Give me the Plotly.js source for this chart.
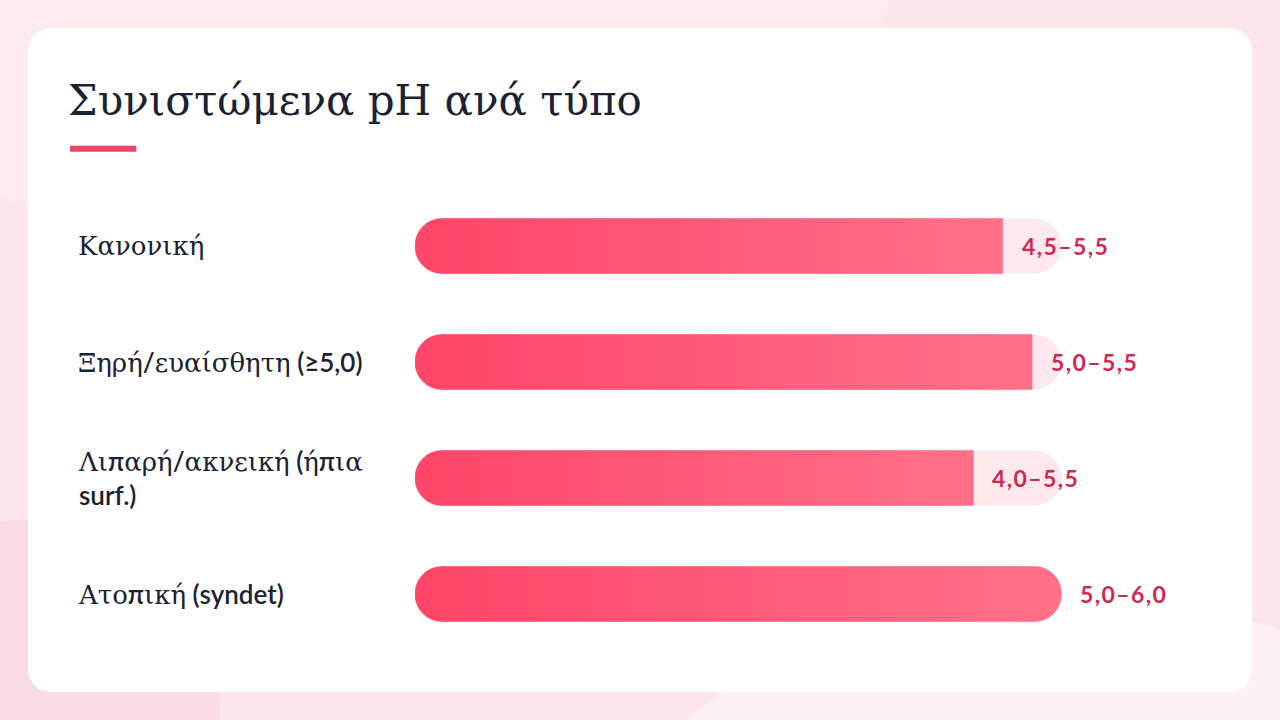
<!DOCTYPE html>
<html>
<head>
<meta charset="utf-8">
<script src="https://cdn.plot.ly/plotly-3.0.1.min.js"></script>
<style>
html, body { margin: 0; padding: 0; }
body {
  width: 1280px; height: 720px; overflow: hidden; position: relative;
  background: #fce6ea;
}
.blob1 { position: absolute; left: -200px; top: -300px; width: 1090px; height: 560px; border-radius: 50%; background: #fdeaed; }
.blob2 { position: absolute; left: -180px; top: 520px; width: 400px; height: 400px; border-radius: 50%; background: #fadde2; }
.blob3 { position: absolute; left: 620px; top: 600px; width: 900px; height: 500px; border-radius: 50%; background: #fcf0f1; }
.card {
  position: absolute; left: 28px; top: 28px; width: 1224px; height: 664px;
  background: #ffffff; border-radius: 22px;
}
#chart { position: absolute; left: 0; top: 0; width: 1280px; height: 720px; }
</style>
</head>
<body>
<div class="blob1"></div>
<div class="blob2"></div>
<div class="blob3"></div>
<div class="card"></div>
<div id="chart"></div>
<script>
// Skin types and recommended pH ranges.
var categories = ['Κανονική', 'Ξηρή/ευαίσθητη (≥5,0)', 'Λιπαρή/ακνεική (ήπια<br>surf.)', 'Ατοπική (syndet)'];
var ph_low = [4.5, 5.0, 4.0, 5.0];
var ph_high = [5.5, 5.5, 5.5, 6.0];
var range_labels = ['4,5–5,5', '5,0–5,5', '4,0–5,5', '5,0–6,0'];

// Bar length is the middle of each range, track is the largest middle.
var ph_mid = ph_low.map(function(v, i){ return (v + ph_high[i]) / 2; });
var track_max = Math.max.apply(null, ph_mid);

// Plotly only rounds the far end of a bar, so each bar gets a short
// negative stub (rounded on the left) plus the main piece.
var x_span = 6.5;
var plot_px = 764;
var cap = 28 * x_span / plot_px;   // 28 px stub, in axis units
var GREEK_SERIF = '"DejaVu Serif", serif';
var SANS = 'Lato, sans-serif';

function bar(values, color, name){
  return {
    type: 'bar', orientation: 'h', name: name,
    y: categories, x: values,
    width: 0.474,
    marker: {color: color, cornerradius: '50%', line: {width: 0}},
    hoverinfo: 'skip', showlegend: false
  };
}
var stub = categories.map(function(){ return -cap; });
var traces = [
  bar(stub, '#fde9ed', 'track_l'),
  bar(categories.map(function(){ return track_max - cap; }), '#fde9ed', 'track_r'),
  bar(stub, '#ff4569', 'fill_l'),
  bar(ph_mid.map(function(v){ return v - cap; }), '#ff5b79', 'fill_r')
];

// Greek letters in the labels are set in serif, the rest in sans.
function mixed(s){
  return s.replace(/[\u0370-\u03BF\u03C1-\u03FF]+/g, function(m){
    return '<span style="font-family:' + GREEK_SERIF.replace(/"/g, "'") + ';font-weight:normal;font-size:26px">' + m + '</span>';
  });
}

var annotations = [];
for (var i = 0; i < categories.length; ++i) {
  // value label right after the filled bar
  annotations.push({
    x: ph_mid[i] - cap, y: categories[i], xref: 'x', yref: 'y',
    text: '<span style="letter-spacing:1.4px">' + range_labels[i] + '</span>', showarrow: false,
    xanchor: 'left', xshift: 17,
    font: {family: SANS, size: 23, color: '#cc2a50', weight: 'bold'}
  });
  // category label at the left side of the card
  annotations.push({
    x: -0.4437, y: categories[i], xref: 'paper', yref: 'y',
    text: mixed(categories[i]), showarrow: false,
    xanchor: 'left', align: 'left',
    font: {family: SANS, size: 26, color: '#1a2233', weight: 600}
  });
}

var layout = {
  width: 1280, height: 720,
  margin: {l: 415, r: 1280 - 415 - plot_px, t: 188, b: 68},
  paper_bgcolor: 'rgba(0,0,0,0)',
  plot_bgcolor: 'rgba(0,0,0,0)',
  barmode: 'overlay',
  title: {
    text: 'Συνιστώμενα pH ανά τύπο',
    xref: 'container', yref: 'container',
    x: 68/1280, xanchor: 'left',
    y: 1 - 100/720, yanchor: 'middle',
    font: {family: GREEK_SERIF, size: 42, color: '#1a2233'}
  },
  xaxis: {range: [-cap, x_span - cap], visible: false, fixedrange: true},
  yaxis: {autorange: 'reversed', visible: false, fixedrange: true},
  annotations: annotations,
  shapes: [{
    type: 'line', xref: 'paper', yref: 'paper',
    x0: -0.4515, x1: -0.3647, y0: 1.0844, y1: 1.0844,
    line: {color: '#f0436a', width: 6}
  }]
};

var config = {displayModeBar: false, responsive: false};

Plotly.newPlot('chart', traces, layout, config).then(function(gd){
  // Plotly bars have no gradient fill: give each filled bar its own one,
  // running from the left end to the right end of that bar.
  var svg = gd.querySelector('.main-svg');
  var ns = 'http://www.w3.org/2000/svg';
  var defs = svg.querySelector('defs') || svg.insertBefore(document.createElementNS(ns, 'defs'), svg.firstChild);
  var layers = gd.querySelectorAll('.barlayer .trace');
  var left = layers[2].querySelectorAll('path');
  var right = layers[3].querySelectorAll('path');
  right.forEach(function(p, k){
    var bl = left[k].getBBox(), br = p.getBBox();
    var grad = document.createElementNS(ns, 'linearGradient');
    grad.setAttribute('id', 'barGrad' + k);
    grad.setAttribute('gradientUnits', 'userSpaceOnUse');
    grad.setAttribute('x1', bl.x); grad.setAttribute('x2', br.x + br.width);
    grad.setAttribute('y1', 0); grad.setAttribute('y2', 0);
    [['0', '#ff4569'], ['1', '#ff7189']].forEach(function(s){
      var stop = document.createElementNS(ns, 'stop');
      stop.setAttribute('offset', s[0]);
      stop.setAttribute('stop-color', s[1]);
      grad.appendChild(stop);
    });
    defs.appendChild(grad);
    [p, left[k]].forEach(function(el){
      el.style.fill = 'url(#barGrad' + k + ')';
      el.style.stroke = 'url(#barGrad' + k + ')';
      el.style.strokeWidth = '0.6px';
    });
  });
});
</script>
</body>
</html>
